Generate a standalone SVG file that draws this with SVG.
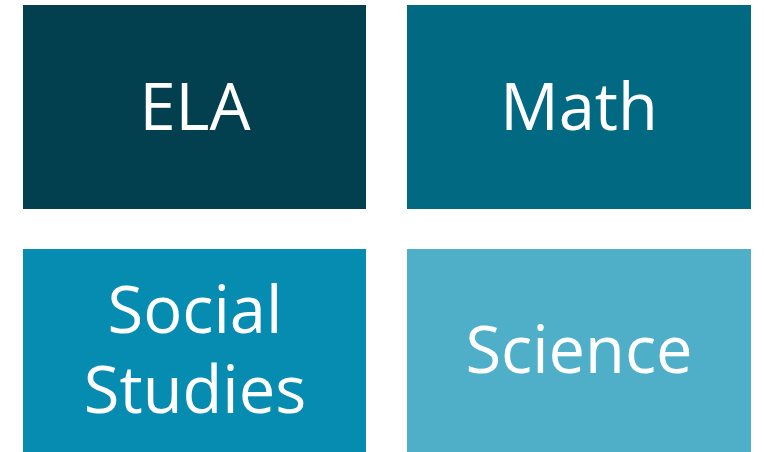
<svg xmlns="http://www.w3.org/2000/svg" width="764" height="452" viewBox="0 0 764 452">
<style>
text{font-family:"Open Sans","Noto Sans","Liberation Sans",sans-serif;font-size:65px;fill:#fff;text-anchor:middle}
</style>
<rect width="764" height="452" fill="#fff"/>
<g id="ela"><rect x="23" y="5" width="343" height="204" fill="#02404F"/><text x="195" y="130">ELA</text></g>
<g id="math"><rect x="407" y="5" width="344" height="204" fill="#026983"/><text x="579" y="130">Math</text></g>
<g id="social"><rect x="23" y="249" width="343" height="203" fill="#068CB0"/><text x="195" y="333">Social</text><text x="195" y="413">Studies</text></g>
<g id="science"><rect x="407" y="249" width="344" height="203" fill="#4FAFC9"/><text x="579" y="373">Science</text></g>
</svg>
